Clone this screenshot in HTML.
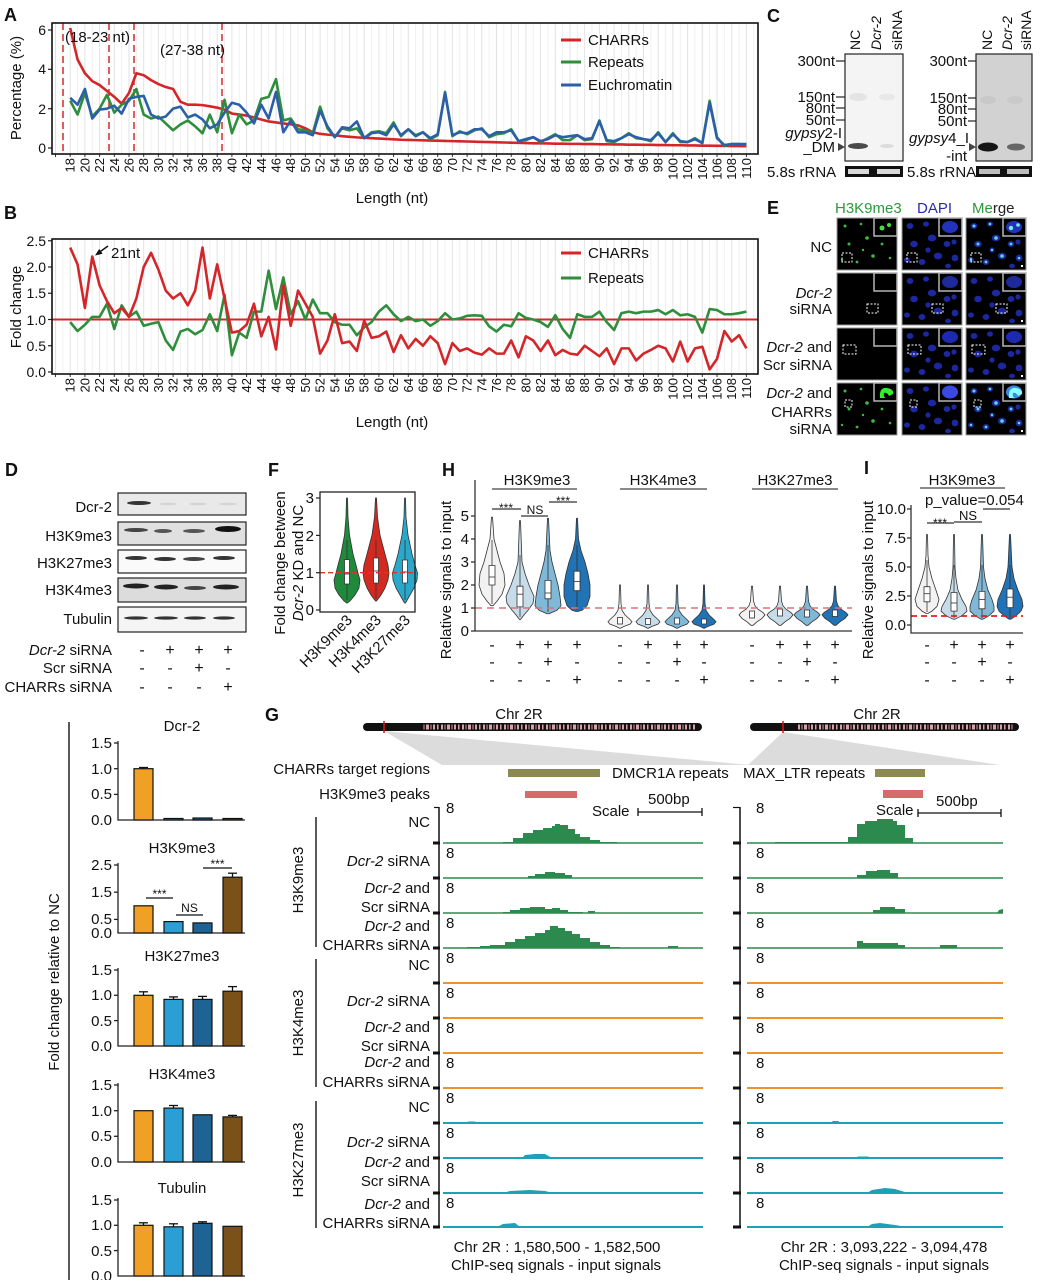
<!DOCTYPE html>
<html><head><meta charset="utf-8"><title>Figure</title>
<style>
html,body{margin:0;padding:0;background:#fff}
svg{display:block}
text{font-family:"Liberation Sans",Arial,sans-serif;fill:#111}
.L{font-weight:bold;font-size:18px}
.s12{font-size:12px}
.s13{font-size:13px}
.s14{font-size:14px}
.s15{font-size:15px}
.s16{font-size:16px}
.i{font-style:italic}
.e{text-anchor:end}
.m{text-anchor:middle}
</style></head><body>
<svg xmlns="http://www.w3.org/2000/svg" xmlns:xlink="http://www.w3.org/1999/xlink" width="1040" height="1280" viewBox="0 0 1040 1280">
<defs>
<pattern id="gA" patternUnits="userSpaceOnUse" x="69.7" y="0" width="14.7" height="20">
<rect x="0" y="0" width="1" height="20" fill="#e2e2e2"/><rect x="7.35" y="0" width="1" height="20" fill="#f0f0f0"/>
</pattern>
<pattern id="tk" patternUnits="userSpaceOnUse" x="69.7" y="0" width="14.7" height="20">
<rect x="0" y="0" width="1" height="20" fill="#333"/>
</pattern>
<pattern id="pk" patternUnits="userSpaceOnUse" x="0" y="0" width="21" height="10">
<rect x="0" y="0" width="2" height="10" fill="#d9a2ab"/><rect x="3.5" y="0" width="1" height="10" fill="#d9a2ab"/><rect x="6" y="0" width="3" height="10" fill="#d9a2ab"/><rect x="10.5" y="0" width="1" height="10" fill="#d9a2ab"/><rect x="13" y="0" width="2" height="10" fill="#d9a2ab"/><rect x="17" y="0" width="1.5" height="10" fill="#d9a2ab"/>
</pattern>
<g id="nucs" fill="#1c27a0">
<ellipse cx="8" cy="8" rx="3.4" ry="3"/><ellipse cx="24" cy="6" rx="3" ry="2.6"/><ellipse cx="30" cy="20" rx="4.2" ry="3.4"/><ellipse cx="12" cy="26" rx="3.8" ry="3.3"/><ellipse cx="45" cy="26" rx="3.4" ry="3"/><ellipse cx="53" cy="40" rx="3.4" ry="3.4"/><ellipse cx="36" cy="38" rx="4.2" ry="3.4"/><ellipse cx="20" cy="44" rx="3.4" ry="3"/><ellipse cx="46" cy="48" rx="3" ry="2.2"/><ellipse cx="5" cy="42" rx="3" ry="2.6"/><ellipse cx="26" cy="32" rx="2.6" ry="2.6"/><ellipse cx="52" cy="24" rx="2.6" ry="2.6"/>
</g>
<g id="gd" fill="#3dbb3d">
<circle cx="8" cy="8" r="1.5"/><circle cx="24" cy="6" r="1.3"/><circle cx="30" cy="20" r="1.8"/><circle cx="12" cy="26" r="1.5"/><circle cx="45" cy="26" r="1.4"/><circle cx="53" cy="40" r="1.3"/><circle cx="36" cy="38" r="1.8"/><circle cx="20" cy="44" r="1.4"/><circle cx="5" cy="42" r="1.2"/><circle cx="26" cy="32" r="1.2"/>
</g>
<g id="cd" fill="#5fd6d6">
<circle cx="8" cy="8" r="1.5"/><circle cx="24" cy="6" r="1.3"/><circle cx="30" cy="20" r="1.8"/><circle cx="12" cy="26" r="1.5"/><circle cx="45" cy="26" r="1.4"/><circle cx="53" cy="40" r="1.3"/><circle cx="36" cy="38" r="1.8"/><circle cx="20" cy="44" r="1.4"/><circle cx="5" cy="42" r="1.2"/><circle cx="26" cy="32" r="1.2"/>
</g>
<path id="vh2" stroke="#333" stroke-width="0.8" d="M0.5,585 L1,603.4 L2,610.3 L5,614.9 L10,619.5 L12,621.8 L10,624.1 L4,626.4 L0.5,628.2 L-0.5,628.2 L-4,626.4 L-10,624.1 L-12,621.8 L-10,619.5 L-5,614.9 L-2,610.3 L-1,603.4 L-0.5,585 Z"/>
<path id="vh3" stroke="#333" stroke-width="0.8" d="M0.5,586.2 L1.5,601.1 L3,605.7 L6,609.2 L11,612.6 L13,614.9 L10,618.4 L5,621.8 L1,625.3 L-1,625.3 L-5,621.8 L-10,618.4 L-13,614.9 L-11,612.6 L-6,609.2 L-3,605.7 L-1.5,601.1 L-0.5,586.2 Z"/>
</defs>
<rect width="1040" height="1280" fill="#fff"/>

<!-- ================= PANEL A ================= -->
<text x="4" y="21" class="L">A</text>
<rect x="52" y="23" width="706" height="131" fill="url(#gA)"/>
<rect x="52" y="154" width="706" height="3" fill="url(#tk)"/>
<g stroke="#222" stroke-width="1.2"><line x1="48" y1="148" x2="52" y2="148"/><line x1="48" y1="108.7" x2="52" y2="108.7"/><line x1="48" y1="69.3" x2="52" y2="69.3"/><line x1="48" y1="30" x2="52" y2="30"/></g>
<g class="s14 e"><text x="46" y="153">0</text><text x="46" y="114">2</text><text x="46" y="74">4</text><text x="46" y="35">6</text></g>
<text class="s15 m" transform="translate(21,88) rotate(-90)">Percentage (%)</text>
<g stroke="#d42a2a" stroke-width="1.5" stroke-dasharray="7,4"><line x1="63" y1="23" x2="63" y2="154"/><line x1="109" y1="23" x2="109" y2="154"/><line x1="134" y1="23" x2="134" y2="154"/><line x1="222" y1="23" x2="222" y2="154"/></g>
<g transform="translate(70.2,148) scale(7.35,-19.67)" fill="none" stroke-linejoin="round">
<polyline vector-effect="non-scaling-stroke" stroke="#d4262a" stroke-width="2.6" points="0,6.1 1,4.5 2,3.8 3,3.4 4,3.2 5,2.9 6,2.6 7,2.25 8,2.8 9,3.8 10,3.7 11,3.45 12,3.25 13,3.1 14,3.0 15,2.35 16,2.2 17,2.2 18,2.18 19,2.12 20,2.05 21,1.95 22,1.75 23,1.7 24,1.65 25,1.55 26,1.45 27,1.35 28,1.3 29,1.25 30,1.2 31,1.15 32,1.0 33,0.8 34,0.72 35,0.68 36,0.65 37,0.6 38,0.57 39,0.54 40,0.52 41,0.5 42,0.48 43,0.46 44,0.44 45,0.42 46,0.41 47,0.4 48,0.39 49,0.38 50,0.37 51,0.36 52,0.35 53,0.34 54,0.33 55,0.32 56,0.31 57,0.3 58,0.29 59,0.28 60,0.27 61,0.26 62,0.25 63,0.24 64,0.24 65,0.23 66,0.22 67,0.22 68,0.21 69,0.21 70,0.2 71,0.2 72,0.19 73,0.19 74,0.18 75,0.18 76,0.17 77,0.17 78,0.16 79,0.16 80,0.15 81,0.15 82,0.14 83,0.14 84,0.13 85,0.13 86,0.12 87,0.12 88,0.11 89,0.11 90,0.1 91,0.1 92,0.09"/>
<polyline vector-effect="non-scaling-stroke" stroke="#2e8e3c" stroke-width="2.6" points="0,2.4 1,1.7 2,2.8 3,1.6 4,2.0 5,2.7 6,1.8 7,2.2 8,2.4 9,3.0 10,1.7 11,1.5 12,1.6 13,1.25 14,0.9 15,1.2 16,1.4 17,1.1 18,0.75 19,1.7 20,0.8 21,2.45 22,0.75 23,1.7 24,1.2 25,1.4 26,2.5 27,2.6 28,3.5 29,1.4 30,1.5 31,0.95 32,0.9 33,0.75 34,2.1 35,1.0 36,0.55 37,1.0 38,0.9 39,1.0 40,0.5 41,0.8 42,0.85 43,0.75 44,1.3 45,0.6 46,0.95 47,0.65 48,0.8 49,0.45 50,0.65 51,2.85 52,0.6 53,0.85 54,0.7 55,0.9 56,1.0 57,0.55 58,0.7 59,0.75 60,0.95 61,0.35 62,0.4 63,0.55 64,0.3 65,0.5 66,0.7 67,0.4 68,0.4 69,0.65 70,0.4 71,0.45 72,1.4 73,0.35 74,0.3 75,0.5 76,0.75 77,0.5 78,0.45 79,0.35 80,0.8 81,0.3 82,0.75 83,0.3 84,0.3 85,0.5 86,0.25 87,2.4 88,0.55 89,0.1 90,0.2 91,0.2 92,0.15"/>
<polyline vector-effect="non-scaling-stroke" stroke="#2c5fa8" stroke-width="2.6" points="0,2.55 1,2.2 2,3.0 3,1.5 4,1.95 5,2.0 6,2.15 7,1.75 8,2.5 9,2.6 10,2.65 11,1.7 12,1.5 13,1.6 14,2.0 15,2.1 16,1.55 17,1.7 18,1.45 19,1.0 20,1.2 21,1.8 22,2.3 23,2.2 24,1.8 25,1.25 26,2.2 27,1.5 28,2.85 29,0.8 30,1.4 31,0.8 32,0.8 33,0.65 34,1.9 35,1.1 36,0.55 37,1.05 38,1.0 39,1.35 40,0.5 41,0.75 42,0.8 43,0.65 44,1.2 45,0.65 46,0.95 47,0.6 48,0.8 49,0.5 50,0.7 51,2.8 52,0.65 53,0.8 54,0.75 55,0.95 56,0.95 57,0.6 58,0.8 59,0.8 60,0.9 61,0.35 62,0.45 63,0.55 64,0.35 65,0.45 66,0.65 67,0.55 68,0.6 69,0.65 70,0.45 71,0.5 72,1.35 73,0.4 74,0.35 75,0.5 76,0.7 77,0.55 78,0.45 79,0.4 80,0.75 81,0.3 82,0.7 83,0.35 84,0.3 85,0.45 86,0.25 87,2.3 88,0.5 89,0.15 90,0.2 91,0.2 92,0.2"/>
</g>
<rect x="52" y="23" width="706" height="131" fill="none" stroke="#111" stroke-width="1.6"/>
<text x="65" y="42" class="s15">(18-23 nt)</text>
<text x="160" y="55" class="s15">(27-38 nt)</text>
<line x1="561" y1="40" x2="581" y2="40" stroke="#d4262a" stroke-width="3"/><text x="588" y="45" class="s15">CHARRs</text>
<line x1="561" y1="62" x2="581" y2="62" stroke="#2e8e3c" stroke-width="3"/><text x="588" y="67" class="s15">Repeats</text>
<line x1="561" y1="85" x2="581" y2="85" stroke="#2c5fa8" stroke-width="3"/><text x="588" y="90" class="s15">Euchromatin</text>
<g class="s13 e">
<text transform="translate(74.7,158) rotate(-90)">18</text><text transform="translate(89.4,158) rotate(-90)">20</text><text transform="translate(104.1,158) rotate(-90)">22</text><text transform="translate(118.8,158) rotate(-90)">24</text><text transform="translate(133.5,158) rotate(-90)">26</text><text transform="translate(148.2,158) rotate(-90)">28</text><text transform="translate(162.9,158) rotate(-90)">30</text><text transform="translate(177.6,158) rotate(-90)">32</text><text transform="translate(192.3,158) rotate(-90)">34</text><text transform="translate(207,158) rotate(-90)">36</text><text transform="translate(221.7,158) rotate(-90)">38</text><text transform="translate(236.4,158) rotate(-90)">40</text><text transform="translate(251.1,158) rotate(-90)">42</text><text transform="translate(265.8,158) rotate(-90)">44</text><text transform="translate(280.5,158) rotate(-90)">46</text><text transform="translate(295.2,158) rotate(-90)">48</text><text transform="translate(309.9,158) rotate(-90)">50</text><text transform="translate(324.6,158) rotate(-90)">52</text><text transform="translate(339.3,158) rotate(-90)">54</text><text transform="translate(354,158) rotate(-90)">56</text><text transform="translate(368.7,158) rotate(-90)">58</text><text transform="translate(383.4,158) rotate(-90)">60</text><text transform="translate(398.1,158) rotate(-90)">62</text><text transform="translate(412.8,158) rotate(-90)">64</text><text transform="translate(427.5,158) rotate(-90)">66</text><text transform="translate(442.2,158) rotate(-90)">68</text><text transform="translate(456.9,158) rotate(-90)">70</text><text transform="translate(471.6,158) rotate(-90)">72</text><text transform="translate(486.3,158) rotate(-90)">74</text><text transform="translate(501,158) rotate(-90)">76</text><text transform="translate(515.7,158) rotate(-90)">78</text><text transform="translate(530.4,158) rotate(-90)">80</text><text transform="translate(545.1,158) rotate(-90)">82</text><text transform="translate(559.8,158) rotate(-90)">84</text><text transform="translate(574.5,158) rotate(-90)">86</text><text transform="translate(589.2,158) rotate(-90)">88</text><text transform="translate(603.9,158) rotate(-90)">90</text><text transform="translate(618.6,158) rotate(-90)">92</text><text transform="translate(633.3,158) rotate(-90)">94</text><text transform="translate(648,158) rotate(-90)">96</text><text transform="translate(662.7,158) rotate(-90)">98</text><text transform="translate(677.4,158) rotate(-90)">100</text><text transform="translate(692.1,158) rotate(-90)">102</text><text transform="translate(706.8,158) rotate(-90)">104</text><text transform="translate(721.5,158) rotate(-90)">106</text><text transform="translate(736.2,158) rotate(-90)">108</text><text transform="translate(750.9,158) rotate(-90)">110</text>
</g>
<text x="392" y="203" class="s15 m">Length (nt)</text>

<!-- ================= PANEL B ================= -->
<text x="4" y="219" class="L">B</text>
<rect x="52" y="239" width="706" height="135" fill="url(#gA)"/>
<rect x="52" y="374" width="706" height="3" fill="url(#tk)"/>
<g stroke="#222" stroke-width="1.2"><line x1="48" y1="372" x2="52" y2="372"/><line x1="48" y1="345.75" x2="52" y2="345.75"/><line x1="48" y1="319.5" x2="52" y2="319.5"/><line x1="48" y1="293.25" x2="52" y2="293.25"/><line x1="48" y1="267" x2="52" y2="267"/><line x1="48" y1="240.75" x2="52" y2="240.75"/></g>
<g class="s14 e"><text x="46" y="377">0.0</text><text x="46" y="351">0.5</text><text x="46" y="325">1.0</text><text x="46" y="298">1.5</text><text x="46" y="272">2.0</text><text x="46" y="246">2.5</text></g>
<text class="s15 m" transform="translate(21,307) rotate(-90)">Fold change</text>
<line x1="52" y1="319.5" x2="758" y2="319.5" stroke="#d4262a" stroke-width="2"/>
<g transform="translate(70.2,372) scale(7.35,-52.5)" fill="none" stroke-linejoin="round">
<polyline vector-effect="non-scaling-stroke" stroke="#2e8e3c" stroke-width="2.6" points="0,0.95 1,0.78 2,0.9 3,1.05 4,1.05 5,1.3 6,0.82 7,1.27 8,1.05 9,1.15 10,0.88 11,0.92 12,0.95 13,0.6 14,0.42 15,0.77 16,0.82 17,0.72 18,0.8 19,1.1 20,0.78 21,1.47 22,0.32 23,0.75 24,0.65 25,1.15 26,1.15 27,1.93 28,1.2 29,1.8 30,1.1 31,1.35 32,1.0 33,1.38 34,1.12 35,1.12 36,0.95 37,0.9 38,0.9 39,0.7 40,0.85 41,0.95 42,1.15 43,1.27 44,1.1 45,0.97 46,1.05 47,0.97 48,1.0 49,0.88 50,0.97 51,1.12 52,1.0 53,1.02 54,1.07 55,1.08 56,1.07 57,0.87 58,0.77 59,0.9 60,0.87 61,1.12 62,1.03 63,1.0 64,0.95 65,0.86 66,1.08 67,0.82 68,0.65 69,1.1 70,1.05 71,1.05 72,1.15 73,0.95 74,0.8 75,1.12 76,1.15 77,1.12 78,1.15 79,1.15 80,1.18 81,1.1 82,1.18 83,1.08 84,1.1 85,1.05 86,0.75 87,1.2 88,1.18 89,1.1 90,1.1 91,1.12 92,1.15"/>
<polyline vector-effect="non-scaling-stroke" stroke="#d4262a" stroke-width="2.6" points="0,2.37 1,2.05 2,1.22 3,2.2 4,1.65 5,1.35 6,1.12 7,1.22 8,1.05 9,1.4 10,2.0 11,2.27 12,1.95 13,1.55 14,1.4 15,1.5 16,1.27 17,1.55 18,2.37 19,1.4 20,2.05 21,1.4 22,0.75 23,0.78 24,0.9 25,1.3 26,0.68 27,1.05 28,0.43 29,1.65 30,0.88 31,1.55 32,1.3 33,1.05 34,0.35 35,0.6 36,1.1 37,0.55 38,0.58 39,0.4 40,0.98 41,0.65 42,0.68 43,0.77 44,0.38 45,0.7 46,0.45 47,0.63 48,0.5 49,0.68 50,0.55 51,0.15 52,0.55 53,0.4 54,0.45 55,0.37 56,0.33 57,0.45 58,0.35 59,0.35 60,0.6 61,0.28 62,0.68 63,0.6 64,0.4 65,0.6 66,0.32 67,0.42 68,0.35 69,0.33 70,0.5 71,0.4 72,0.3 73,0.45 74,0.15 75,0.45 76,0.45 77,0.22 78,0.35 79,0.42 80,0.5 81,0.45 82,0.2 83,0.58 84,0.2 85,0.45 86,0.48 87,0.05 88,0.25 89,0.78 90,0.58 91,0.7 92,0.45"/>
</g>
<rect x="52" y="239" width="706" height="135" fill="none" stroke="#111" stroke-width="1.6"/>
<line x1="108" y1="246" x2="99" y2="252.5" stroke="#111" stroke-width="1.4"/>
<polygon points="95,255.5 102.6,253.8 99.2,249" fill="#111"/>
<text x="111" y="258" class="s15">21nt</text>
<line x1="561" y1="253" x2="581" y2="253" stroke="#d4262a" stroke-width="3"/><text x="588" y="258" class="s15">CHARRs</text>
<line x1="561" y1="278" x2="581" y2="278" stroke="#2e8e3c" stroke-width="3"/><text x="588" y="283" class="s15">Repeats</text>
<g class="s13 e">
<text transform="translate(74.7,378) rotate(-90)">18</text><text transform="translate(89.4,378) rotate(-90)">20</text><text transform="translate(104.1,378) rotate(-90)">22</text><text transform="translate(118.8,378) rotate(-90)">24</text><text transform="translate(133.5,378) rotate(-90)">26</text><text transform="translate(148.2,378) rotate(-90)">28</text><text transform="translate(162.9,378) rotate(-90)">30</text><text transform="translate(177.6,378) rotate(-90)">32</text><text transform="translate(192.3,378) rotate(-90)">34</text><text transform="translate(207,378) rotate(-90)">36</text><text transform="translate(221.7,378) rotate(-90)">38</text><text transform="translate(236.4,378) rotate(-90)">40</text><text transform="translate(251.1,378) rotate(-90)">42</text><text transform="translate(265.8,378) rotate(-90)">44</text><text transform="translate(280.5,378) rotate(-90)">46</text><text transform="translate(295.2,378) rotate(-90)">48</text><text transform="translate(309.9,378) rotate(-90)">50</text><text transform="translate(324.6,378) rotate(-90)">52</text><text transform="translate(339.3,378) rotate(-90)">54</text><text transform="translate(354,378) rotate(-90)">56</text><text transform="translate(368.7,378) rotate(-90)">58</text><text transform="translate(383.4,378) rotate(-90)">60</text><text transform="translate(398.1,378) rotate(-90)">62</text><text transform="translate(412.8,378) rotate(-90)">64</text><text transform="translate(427.5,378) rotate(-90)">66</text><text transform="translate(442.2,378) rotate(-90)">68</text><text transform="translate(456.9,378) rotate(-90)">70</text><text transform="translate(471.6,378) rotate(-90)">72</text><text transform="translate(486.3,378) rotate(-90)">74</text><text transform="translate(501,378) rotate(-90)">76</text><text transform="translate(515.7,378) rotate(-90)">78</text><text transform="translate(530.4,378) rotate(-90)">80</text><text transform="translate(545.1,378) rotate(-90)">82</text><text transform="translate(559.8,378) rotate(-90)">84</text><text transform="translate(574.5,378) rotate(-90)">86</text><text transform="translate(589.2,378) rotate(-90)">88</text><text transform="translate(603.9,378) rotate(-90)">90</text><text transform="translate(618.6,378) rotate(-90)">92</text><text transform="translate(633.3,378) rotate(-90)">94</text><text transform="translate(648,378) rotate(-90)">96</text><text transform="translate(662.7,378) rotate(-90)">98</text><text transform="translate(677.4,378) rotate(-90)">100</text><text transform="translate(692.1,378) rotate(-90)">102</text><text transform="translate(706.8,378) rotate(-90)">104</text><text transform="translate(721.5,378) rotate(-90)">106</text><text transform="translate(736.2,378) rotate(-90)">108</text><text transform="translate(750.9,378) rotate(-90)">110</text>
</g>
<text x="392" y="427" class="s15 m">Length (nt)</text>

<!-- ================= PANEL C ================= -->
<text x="767" y="22" class="L">C</text>
<g class="s14">
<text transform="translate(860,50) rotate(-90)">NC</text>
<text class="i" transform="translate(881,50) rotate(-90)">Dcr-2</text>
<text transform="translate(902,50) rotate(-90)">siRNA</text>
<text transform="translate(992,50) rotate(-90)">NC</text>
<text class="i" transform="translate(1012,50) rotate(-90)">Dcr-2</text>
<text transform="translate(1031,50) rotate(-90)">siRNA</text>
</g>
<rect x="845" y="54" width="58" height="107" fill="#f4f4f4" stroke="#222" stroke-width="1.2"/>
<ellipse cx="858" cy="97" rx="9" ry="4" fill="#e4e4e4"/><ellipse cx="887" cy="97" rx="8" ry="3.5" fill="#e8e8e8"/>
<ellipse cx="858" cy="146" rx="10" ry="3" fill="#4a4a4a"/><ellipse cx="887" cy="146" rx="7" ry="2" fill="#dcdcdc"/>
<g stroke="#222" stroke-width="1.2"><line x1="836" y1="61" x2="845" y2="61"/><line x1="836" y1="97" x2="845" y2="97"/><line x1="836" y1="108" x2="845" y2="108"/><line x1="836" y1="120" x2="845" y2="120"/></g>
<g class="s15 e">
<text x="835" y="66">300nt</text><text x="835" y="102">150nt</text><text x="835" y="113">80nt</text><text x="835" y="125">50nt</text>
<text x="842" y="138"><tspan class="i">gypsy</tspan>2-I</text>
<text x="835" y="152">_DM</text>
</g>
<polygon points="838,143 845,147 838,151" fill="#444"/>
<text x="767" y="177" class="s15">5.8s rRNA</text>
<rect x="845" y="166" width="58" height="11" fill="#111"/>
<rect x="848" y="169" width="21" height="5" fill="#d8d8d8"/><rect x="877" y="169" width="23" height="5" fill="#d8d8d8"/>

<rect x="976" y="54" width="56" height="107" fill="#d2d2d2" stroke="#222" stroke-width="1.2"/>
<ellipse cx="988" cy="100" rx="8" ry="4" fill="#c8c8c8"/><ellipse cx="1015" cy="100" rx="8" ry="4" fill="#cacaca"/>
<ellipse cx="988" cy="147" rx="10" ry="4.5" fill="#151515"/><ellipse cx="1016" cy="147" rx="9" ry="3.5" fill="#666"/>
<g stroke="#222" stroke-width="1.2"><line x1="968" y1="61" x2="976" y2="61"/><line x1="968" y1="98" x2="976" y2="98"/><line x1="968" y1="109" x2="976" y2="109"/><line x1="968" y1="121" x2="976" y2="121"/></g>
<g class="s15 e">
<text x="967" y="66">300nt</text><text x="967" y="103">150nt</text><text x="967" y="114">80nt</text><text x="967" y="126">50nt</text>
<text x="969" y="143"><tspan class="i">gypsy</tspan>4_I</text>
<text x="967" y="161">-int</text>
</g>
<polygon points="969,143 976,147 969,151" fill="#444"/>
<text x="907" y="177" class="s15">5.8s rRNA</text>
<rect x="976" y="166" width="56" height="11" fill="#111"/>
<rect x="979" y="169" width="21" height="5" fill="#bdbdbd"/><rect x="1007" y="169" width="22" height="5" fill="#bdbdbd"/>

<!-- ================= PANEL E ================= -->
<text x="767" y="214" class="L">E</text>
<g class="s15">
<text x="835" y="213" style="fill:#2a9a3a">H3K9me3</text>
<text x="917" y="213" style="fill:#2b2bb0">DAPI</text>
<text x="972" y="213"><tspan style="fill:#2a9a3a">Me</tspan><tspan style="fill:#222">rge</tspan></text>
</g>
<g class="s15 e">
<text x="832" y="252">NC</text>
<text x="832" y="298" class="i">Dcr-2</text><text x="832" y="314">siRNA</text>
<text x="832" y="352"><tspan class="i">Dcr-2</tspan> and</text><text x="832" y="370">Scr siRNA</text>
<text x="832" y="398"><tspan class="i">Dcr-2</tspan> and</text><text x="832" y="417">CHARRs</text><text x="832" y="434">siRNA</text>
</g>
<rect x="837" y="218" width="60" height="52" fill="#000" stroke="#999"/>
<use href="#gd" xlink:href="#gd" x="837" y="218"/>
<rect x="902" y="218" width="60" height="52" fill="#000" stroke="#999"/>
<use href="#nucs" xlink:href="#nucs" x="902" y="218"/>
<rect x="966" y="218" width="60" height="52" fill="#000" stroke="#999"/>
<use href="#nucs" xlink:href="#nucs" x="966" y="218"/><use href="#cd" xlink:href="#cd" x="966" y="218"/>
<rect x="837" y="273" width="60" height="52" fill="#000" stroke="#999"/>
<rect x="902" y="273" width="60" height="52" fill="#000" stroke="#999"/>
<use href="#nucs" xlink:href="#nucs" x="902" y="273"/>
<rect x="966" y="273" width="60" height="52" fill="#000" stroke="#999"/>
<use href="#nucs" xlink:href="#nucs" x="966" y="273"/>
<rect x="837" y="328" width="60" height="52" fill="#000" stroke="#999"/>
<rect x="902" y="328" width="60" height="52" fill="#000" stroke="#999"/>
<use href="#nucs" xlink:href="#nucs" x="902" y="328"/>
<rect x="966" y="328" width="60" height="52" fill="#000" stroke="#999"/>
<use href="#nucs" xlink:href="#nucs" x="966" y="328"/>
<rect x="837" y="383" width="60" height="52" fill="#000" stroke="#999"/>
<use href="#gd" xlink:href="#gd" x="837" y="383"/>
<rect x="902" y="383" width="60" height="52" fill="#000" stroke="#999"/>
<use href="#nucs" xlink:href="#nucs" x="902" y="383"/>
<rect x="966" y="383" width="60" height="52" fill="#000" stroke="#999"/>
<use href="#nucs" xlink:href="#nucs" x="966" y="383"/><use href="#cd" xlink:href="#cd" x="966" y="383"/>
<g stroke="#b5b5b5" stroke-width="1.5" fill="#000">
<rect x="874" y="218" width="23" height="18"/><rect x="939" y="218" width="23" height="18"/><rect x="1003" y="218" width="23" height="18"/>
<rect x="874" y="273" width="23" height="18"/><rect x="939" y="273" width="23" height="18"/><rect x="1003" y="273" width="23" height="18"/>
<rect x="874" y="328" width="23" height="18"/><rect x="939" y="328" width="23" height="18"/><rect x="1003" y="328" width="23" height="18"/>
<rect x="874" y="383" width="23" height="18"/><rect x="939" y="383" width="23" height="18"/><rect x="1003" y="383" width="23" height="18"/>
</g>
<circle cx="882" cy="228" r="2.5" fill="#4d4"/><circle cx="889" cy="225" r="2" fill="#4d4"/>
<ellipse cx="950" cy="227" rx="8" ry="6" fill="#2233bb"/>
<ellipse cx="1014" cy="227" rx="8" ry="6" fill="#2233bb"/><circle cx="1011" cy="228" r="2.2" fill="#7ee"/><circle cx="1018" cy="225" r="1.8" fill="#7ee"/>
<ellipse cx="950" cy="282" rx="8" ry="6" fill="#1d2a9a"/><ellipse cx="1014" cy="282" rx="8" ry="6" fill="#1d2a9a"/>
<ellipse cx="950" cy="337" rx="8" ry="6" fill="#1d2ab0"/><ellipse cx="1014" cy="337" rx="8" ry="6" fill="#1d2ab0"/>
<path d="M880,398 Q879,387 887,388 Q894,389 893,394 L889,396 Q887,392 884,393 Q883,397 886,398 Z" fill="#3e3"/>
<ellipse cx="950" cy="392" rx="8" ry="6.5" fill="#3a4ae0"/>
<ellipse cx="1014" cy="392" rx="8" ry="6.5" fill="#3a8ae0"/><path d="M1009,398 Q1008,387 1016,388 Q1023,389 1022,394 L1018,396 Q1016,392 1013,393 Q1012,397 1015,398 Z" fill="#8ff"/>
<g fill="none" stroke="#fff" stroke-width="1" stroke-dasharray="2,1.5">
<rect x="842" y="253" width="10" height="9"/><rect x="907" y="253" width="10" height="9"/><rect x="971" y="253" width="10" height="9"/>
<rect x="867" y="304" width="11" height="9"/><rect x="932" y="304" width="11" height="9"/><rect x="996" y="304" width="11" height="9"/>
<rect x="843" y="345" width="13" height="9"/><rect x="908" y="345" width="13" height="9"/><rect x="972" y="345" width="13" height="9"/>
<rect x="845" y="400" width="7" height="7"/><rect x="910" y="400" width="7" height="7"/><rect x="974" y="400" width="7" height="7"/>
</g>
<g fill="#fff"><rect x="1021" y="265" width="2" height="2"/><rect x="1021" y="320" width="2" height="2"/><rect x="1021" y="375" width="2" height="2"/><rect x="1021" y="430" width="2" height="2"/></g>

<!-- ================= PANEL D ================= -->
<text x="5" y="476" class="L">D</text>
<rect x="118" y="493" width="128" height="22" fill="#e9e9e9" stroke="#222" stroke-width="1.2"/>
<ellipse cx="139" cy="503" rx="12" ry="2" fill="#333"/><ellipse cx="168" cy="504" rx="9" ry="1.2" fill="#d4d4d4"/><ellipse cx="198" cy="504" rx="9" ry="1.2" fill="#d4d4d4"/><ellipse cx="228" cy="504" rx="9" ry="1.2" fill="#d4d4d4"/>
<rect x="118" y="522" width="128" height="23" fill="#e0e0e0" stroke="#222" stroke-width="1.2"/>
<ellipse cx="136" cy="530" rx="12" ry="2" fill="#444"/><ellipse cx="163" cy="531" rx="9" ry="2" fill="#555"/><ellipse cx="194" cy="531" rx="11" ry="2" fill="#555"/><ellipse cx="228" cy="529" rx="13" ry="3" fill="#111"/>
<rect x="118" y="550" width="128" height="23" fill="#fafafa" stroke="#222" stroke-width="1.2"/>
<ellipse cx="136" cy="558" rx="11" ry="2" fill="#333"/><ellipse cx="165" cy="559" rx="11" ry="2" fill="#333"/><ellipse cx="194" cy="559" rx="11" ry="2" fill="#444"/><ellipse cx="224" cy="558" rx="11" ry="2" fill="#333"/>
<rect x="118" y="578" width="128" height="24" fill="#dcdcdc" stroke="#222" stroke-width="1.2"/>
<ellipse cx="136" cy="586" rx="13" ry="2.5" fill="#222"/><ellipse cx="166" cy="587" rx="12" ry="2.5" fill="#222"/><ellipse cx="195" cy="588" rx="11" ry="2" fill="#444"/><ellipse cx="226" cy="587" rx="13" ry="2.5" fill="#222"/>
<rect x="118" y="607" width="128" height="25" fill="#f4f4f4" stroke="#222" stroke-width="1.2"/>
<ellipse cx="136" cy="618" rx="12" ry="1.6" fill="#333"/><ellipse cx="166" cy="618" rx="12" ry="1.6" fill="#333"/><ellipse cx="195" cy="618" rx="11" ry="1.6" fill="#333"/><ellipse cx="224" cy="618" rx="11" ry="1.6" fill="#333"/>
<g class="s15 e">
<text x="112" y="512">Dcr-2</text><text x="112" y="541">H3K9me3</text><text x="112" y="568">H3K27me3</text><text x="112" y="595">H3K4me3</text><text x="112" y="624">Tubulin</text>
<text x="112" y="655"><tspan class="i">Dcr-2</tspan> siRNA</text><text x="112" y="673">Scr siRNA</text><text x="112" y="692">CHARRs siRNA</text>
</g>
<g class="s16 m">
<text x="142" y="655">-</text><text x="170" y="655">+</text><text x="199" y="655">+</text><text x="228" y="655">+</text>
<text x="142" y="673">-</text><text x="170" y="673">-</text><text x="199" y="673">+</text><text x="228" y="673">-</text>
<text x="142" y="692">-</text><text x="170" y="692">-</text><text x="199" y="692">-</text><text x="228" y="692">+</text>
</g>

<!-- ================= PANEL F ================= -->
<text x="268" y="476" class="L">F</text>
<g class="s15 m">
<text transform="translate(285,563) rotate(-90)">Fold change between</text>
<text transform="translate(303,563) rotate(-90)"><tspan class="i">Dcr-2</tspan> KD and NC</text>
</g>
<g stroke="#222" stroke-width="1.2"><line x1="316" y1="498" x2="320" y2="498"/><line x1="316" y1="535.4" x2="320" y2="535.4"/><line x1="316" y1="572.7" x2="320" y2="572.7"/><line x1="316" y1="610" x2="320" y2="610"/></g>
<g class="s15 e"><text x="314" y="503">3</text><text x="314" y="541">2</text><text x="314" y="578">1</text><text x="314" y="615">0</text></g>
<g stroke="#333" stroke-width="0.8" stroke-linejoin="round">
<polygon fill="#1f8a3c" points="347.5,498 348,517 349.5,535 353,554 356,565 358,573 360,580 359,588 355,595 350,601 347.5,603 346.5,603 344,601 339,595 335,588 334,580 336,573 338,565 341,554 344.5,535 346,517 346.5,498"/>
<polygon fill="#d22a20" points="376.5,498 377.5,517 380,535 385,554 388,565 389,573 388,580 385,588 381,595 376.5,601 375.5,601 371,595 367,588 364,580 363,573 364,565 367,554 372,535 374.5,517 375.5,498"/>
<polygon fill="#2aa8cc" points="405.5,498 406,517 408,535 412,554 415,565 417.5,573 417,580 414,588 410,595 405.5,603 404.5,603 400,595 396,588 393,580 392.5,573 395,565 398,554 402,535 404,517 404.5,498"/>
<line x1="347" y1="540" x2="347" y2="600"/><line x1="376" y1="540" x2="376" y2="598"/><line x1="405" y1="540" x2="405" y2="600"/>
<rect x="344.5" y="559.6" width="5" height="24.4" fill="#fff"/><rect x="373.5" y="558" width="5" height="25" fill="#fff"/><rect x="402.5" y="560" width="5" height="23" fill="#fff"/>
<line x1="344.5" y1="574" x2="349.5" y2="574"/><line x1="373.5" y1="571" x2="378.5" y2="571"/><line x1="402.5" y1="572" x2="407.5" y2="572"/>
</g>
<line x1="320" y1="572.7" x2="415" y2="572.7" stroke="#e03030" stroke-width="1.4" stroke-dasharray="5,3"/>
<rect x="320" y="492" width="95" height="120" fill="none" stroke="#222" stroke-width="1.3"/>
<g class="s15 e">
<text transform="translate(353,621) rotate(-45)">H3K9me3</text>
<text transform="translate(382,621) rotate(-45)">H3K4me3</text>
<text transform="translate(411,621) rotate(-45)">H3K27me3</text>
</g>

<!-- ================= PANEL H ================= -->
<text x="442" y="476" class="L">H</text>
<text class="s15 m" transform="translate(451,580) rotate(-90)">Relative signals to input</text>
<g stroke="#222" stroke-width="1.2"><line x1="471" y1="631" x2="475" y2="631"/><line x1="471" y1="608" x2="475" y2="608"/><line x1="471" y1="585" x2="475" y2="585"/><line x1="471" y1="562" x2="475" y2="562"/><line x1="471" y1="539" x2="475" y2="539"/><line x1="471" y1="516" x2="475" y2="516"/></g>
<g class="s15 e"><text x="469" y="636">0</text><text x="469" y="613">1</text><text x="469" y="590">2</text><text x="469" y="567">3</text><text x="469" y="544">4</text><text x="469" y="521">5</text></g>
<g class="s15 m"><text x="537" y="485">H3K9me3</text><text x="663" y="485">H3K4me3</text><text x="795" y="485">H3K27me3</text></g>
<g stroke="#444" stroke-width="1.3"><line x1="492" y1="489" x2="577" y2="489"/><line x1="620" y1="489" x2="707" y2="489"/><line x1="752" y1="489" x2="838" y2="489"/></g>
<g stroke="#333" stroke-width="0.8" stroke-linejoin="round">
<polygon fill="#f2f2f2" points="492.5,517.1 494,539 497,550.5 500,562 504,573.5 505,585 502,594.2 497,601.1 493,605.7 491,605.7 487,601.1 482,594.2 479,585 480,573.5 484,562 487,550.5 490,539 491.5,517.1"/>
<polygon fill="#c6dce9" points="520.5,520.6 522,562 525,573.5 529,585 534,596.5 533,603.4 528,610.3 524,614.9 520.5,619.5 519.5,619.5 516,614.9 512,610.3 507,603.4 506,596.5 511,585 515,573.5 518,562 519.5,520.6"/>
<polygon fill="#80b8d8" points="548.5,518.3 550,550.5 552,562 555,573.5 558,585 560,596.5 561,605.7 557,610.3 549,613.75 547,613.75 539,610.3 535,605.7 536,596.5 538,585 541,573.5 544,562 546,550.5 547.5,518.3"/>
<polygon fill="#2272b6" points="577.5,518.3 578.5,539 581,550.5 585,562 588,573.5 590,585 590,596.5 587,605.7 582,610.3 578,611.5 576,611.5 572,610.3 567,605.7 564,596.5 564,585 566,573.5 569,562 573,550.5 575.5,539 576.5,518.3"/>
<line x1="492" y1="540" x2="492" y2="604"/><line x1="520" y1="555" x2="520" y2="617"/><line x1="548" y1="545" x2="548" y2="612"/><line x1="577" y1="545" x2="577" y2="610"/>
<rect x="489" y="565.5" width="6" height="19.5" fill="#fff"/><rect x="517" y="586.2" width="6" height="20.7" fill="#fff"/><rect x="545" y="580.4" width="6" height="18.4" fill="#fff"/><rect x="574" y="571.2" width="6" height="19.5" fill="#fff"/>
<line x1="489" y1="577" x2="495" y2="577"/><line x1="517" y1="594.2" x2="523" y2="594.2"/><line x1="545" y1="593" x2="551" y2="593"/><line x1="574" y1="581.5" x2="580" y2="581.5"/>
</g>
<use href="#vh2" xlink:href="#vh2" x="620" fill="#f2f2f2"/><use href="#vh2" xlink:href="#vh2" x="648" fill="#c6dce9"/><use href="#vh2" xlink:href="#vh2" x="677" fill="#80b8d8"/><use href="#vh2" xlink:href="#vh2" x="704" fill="#2272b6"/>
<use href="#vh3" xlink:href="#vh3" x="752" fill="#f2f2f2"/><use href="#vh3" xlink:href="#vh3" x="780" fill="#c6dce9"/><use href="#vh3" xlink:href="#vh3" x="807" fill="#80b8d8"/><use href="#vh3" xlink:href="#vh3" x="835" fill="#2272b6"/>
<g stroke="#333" stroke-width="0.8" fill="#fff">
<rect x="617.5" y="617.5" width="5" height="6.5"/><rect x="645.5" y="618.5" width="5" height="6"/><rect x="674.5" y="618" width="5" height="6"/><rect x="701.5" y="619" width="5" height="5"/>
<rect x="749.5" y="611" width="5" height="7"/><rect x="777.5" y="609" width="5" height="7"/><rect x="804.5" y="610" width="5" height="7"/><rect x="832.5" y="610" width="5" height="6.5"/>
</g>
<line x1="475" y1="608" x2="852" y2="608" stroke="#e07070" stroke-width="1.5" stroke-dasharray="7,5"/>
<g stroke="#333" stroke-width="1.3" fill="none"><polyline points="475,480 475,631 852,631"/></g>
<g stroke="#333" stroke-width="1.2"><line x1="492" y1="509" x2="521" y2="509"/><line x1="521" y1="516" x2="548" y2="516"/><line x1="549" y1="502" x2="577" y2="502"/></g>
<g class="s12 m"><text x="506" y="512">***</text><text x="563" y="505">***</text><text x="535" y="514">NS</text></g>
<g class="s16 m">
<text x="492" y="650">-</text><text x="520" y="650">+</text><text x="548" y="650">+</text><text x="577" y="650">+</text>
<text x="492" y="667">-</text><text x="520" y="667">-</text><text x="548" y="667">+</text><text x="577" y="667">-</text>
<text x="492" y="685">-</text><text x="520" y="685">-</text><text x="548" y="685">-</text><text x="577" y="685">+</text>
<text x="620" y="650">-</text><text x="648" y="650">+</text><text x="677" y="650">+</text><text x="704" y="650">+</text>
<text x="620" y="667">-</text><text x="648" y="667">-</text><text x="677" y="667">+</text><text x="704" y="667">-</text>
<text x="620" y="685">-</text><text x="648" y="685">-</text><text x="677" y="685">-</text><text x="704" y="685">+</text>
<text x="752" y="650">-</text><text x="780" y="650">+</text><text x="807" y="650">+</text><text x="835" y="650">+</text>
<text x="752" y="667">-</text><text x="780" y="667">-</text><text x="807" y="667">+</text><text x="835" y="667">-</text>
<text x="752" y="685">-</text><text x="780" y="685">-</text><text x="807" y="685">-</text><text x="835" y="685">+</text>
</g>

<!-- ================= PANEL I ================= -->
<text x="864" y="474" class="L">I</text>
<text class="s15 m" transform="translate(873,580) rotate(-90)">Relative signals to input</text>
<g stroke="#222" stroke-width="1.2"><line x1="907" y1="625" x2="911" y2="625"/><line x1="907" y1="596" x2="911" y2="596"/><line x1="907" y1="567" x2="911" y2="567"/><line x1="907" y1="538" x2="911" y2="538"/><line x1="907" y1="509" x2="911" y2="509"/></g>
<g class="s15 e"><text x="906" y="630">0.0</text><text x="906" y="601">2.5</text><text x="906" y="572">5.0</text><text x="906" y="543">7.5</text><text x="906" y="514">10.0</text></g>
<text x="962" y="485" class="s15 m">H3K9me3</text>
<line x1="920" y1="488" x2="1005" y2="488" stroke="#444" stroke-width="1.3"/>
<text x="925" y="505" class="s15">p_value=0.054</text>
<g stroke="#333" stroke-width="0.8" stroke-linejoin="round">
<polygon fill="#f2f2f2" points="927.5,534.5 928,555.4 929,567 932,578.6 936,590.2 939,599.5 937,606.4 932,611.1 928,613.4 926,613.4 922,611.1 917,606.4 915,599.5 918,590.2 922,578.6 925,567 926,555.4 926.5,534.5"/>
<polygon fill="#c6dce9" points="954.5,534.5 955,567 956,578.6 958,590.2 962,599.5 966,606.4 967,611.1 962,615.7 955,619.2 953,619.2 946,615.7 941,611.1 942,606.4 946,599.5 950,590.2 952,578.6 953,567 953.5,534.5"/>
<polygon fill="#80b8d8" points="982.5,534.5 983.5,567 985,578.6 988,590.2 992,599.5 994,606.4 994,611.1 989,615.7 983,619.2 981,619.2 975,615.7 970,611.1 970,606.4 972,599.5 976,590.2 979,578.6 980.5,567 981.5,534.5"/>
<polygon fill="#2272b6" points="1010.5,534.5 1012,567 1014,578.6 1018,590.2 1022,599.5 1023,606.4 1021,611.1 1016,615.7 1011,619.2 1009,619.2 1004,615.7 999,611.1 997,606.4 998,599.5 1002,590.2 1006,578.6 1008,567 1009.5,534.5"/>
<line x1="927" y1="560" x2="927" y2="612"/><line x1="954" y1="565" x2="954" y2="618"/><line x1="982" y1="565" x2="982" y2="618"/><line x1="1010" y1="565" x2="1010" y2="618"/>
<rect x="924" y="586.7" width="6" height="15.1" fill="#fff"/><rect x="951" y="592.5" width="6" height="18.6" fill="#fff"/><rect x="979" y="591.4" width="6" height="17.4" fill="#fff"/><rect x="1007" y="589" width="6" height="18.6" fill="#fff"/>
<line x1="924" y1="593.7" x2="930" y2="593.7"/><line x1="951" y1="603" x2="957" y2="603"/><line x1="979" y1="599.5" x2="985" y2="599.5"/><line x1="1007" y1="597.2" x2="1013" y2="597.2"/>
</g>
<line x1="911" y1="616" x2="1023" y2="616" stroke="#e02020" stroke-width="1.8" stroke-dasharray="6,4"/>
<polyline points="911,505 911,633 1023,633" fill="none" stroke="#333" stroke-width="1.3"/>
<g stroke="#333" stroke-width="1.2"><line x1="927" y1="523" x2="954" y2="523"/><line x1="954" y1="522" x2="982" y2="522"/><line x1="983" y1="509" x2="1010" y2="509"/></g>
<text x="940" y="527" class="s12 m">***</text>
<text x="968" y="520" class="s13 m">NS</text>
<g class="s16 m">
<text x="927" y="650">-</text><text x="954" y="650">+</text><text x="982" y="650">+</text><text x="1010" y="650">+</text>
<text x="927" y="667">-</text><text x="954" y="667">-</text><text x="982" y="667">+</text><text x="1010" y="667">-</text>
<text x="927" y="685">-</text><text x="954" y="685">-</text><text x="982" y="685">-</text><text x="1010" y="685">+</text>
</g>

<!-- ================= BAR CHARTS ================= -->
<line x1="69" y1="722" x2="69" y2="1280" stroke="#222" stroke-width="1.5"/>
<text class="s15 m" transform="translate(59,982) rotate(-90)">Fold change relative to NC</text>
<g class="s15 m"><text x="182" y="731">Dcr-2</text><text x="182" y="853">H3K9me3</text><text x="182" y="961">H3K27me3</text><text x="182" y="1079">H3K4me3</text><text x="182" y="1193">Tubulin</text></g>
<g class="s15 e">
<text x="112" y="748">1.5</text><text x="112" y="774">1.0</text><text x="112" y="799">0.5</text><text x="112" y="825">0.0</text>
<text x="112" y="870">2.5</text><text x="112" y="897">1.5</text><text x="112" y="924">0.5</text><text x="112" y="938">0.0</text>
<text x="112" y="975">1.5</text><text x="112" y="1000">1.0</text><text x="112" y="1026">0.5</text><text x="112" y="1051">0.0</text>
<text x="112" y="1090">1.5</text><text x="112" y="1116">1.0</text><text x="112" y="1141">0.5</text><text x="112" y="1167">0.0</text>
<text x="112" y="1205">1.5</text><text x="112" y="1230">1.0</text><text x="112" y="1256">0.5</text><text x="112" y="1281">0.0</text>
</g>
<g stroke="#222" stroke-width="1.3" fill="none">
<polyline points="118,741 118,820 245,820"/><polyline points="118,863 118,933 245,933"/><polyline points="118,968 118,1046 245,1046"/><polyline points="118,1083 118,1162 245,1162"/><polyline points="118,1198 118,1276 245,1276"/>
<line x1="114" y1="743" x2="118" y2="743"/><line x1="114" y1="768.7" x2="118" y2="768.7"/><line x1="114" y1="794.4" x2="118" y2="794.4"/>
<line x1="114" y1="865" x2="118" y2="865"/><line x1="114" y1="892.2" x2="118" y2="892.2"/><line x1="114" y1="919.4" x2="118" y2="919.4"/>
<line x1="114" y1="970" x2="118" y2="970"/><line x1="114" y1="995.3" x2="118" y2="995.3"/><line x1="114" y1="1020.6" x2="118" y2="1020.6"/>
<line x1="114" y1="1085" x2="118" y2="1085"/><line x1="114" y1="1110.7" x2="118" y2="1110.7"/><line x1="114" y1="1136.3" x2="118" y2="1136.3"/>
<line x1="114" y1="1200" x2="118" y2="1200"/><line x1="114" y1="1225.3" x2="118" y2="1225.3"/><line x1="114" y1="1250.6" x2="118" y2="1250.6"/>
</g>
<g stroke="#111" stroke-width="1.2">
<rect x="134" y="768.7" width="19" height="51.3" fill="#f0a024"/><rect x="164" y="818.5" width="19" height="1.5" fill="#2a9fd6"/><rect x="193" y="818" width="19" height="2" fill="#1f6394"/><rect x="223" y="818.5" width="19" height="1.5" fill="#7a5219"/>
<rect x="134" y="905.8" width="19" height="27.2" fill="#f0a024"/><rect x="164" y="921.6" width="19" height="11.4" fill="#2a9fd6"/><rect x="193" y="922.9" width="19" height="10.1" fill="#1f6394"/><rect x="223" y="877.2" width="19" height="55.8" fill="#7a5219"/>
<rect x="134" y="995.3" width="19" height="50.7" fill="#f0a024"/><rect x="164" y="999.4" width="19" height="46.6" fill="#2a9fd6"/><rect x="193" y="999.4" width="19" height="46.6" fill="#1f6394"/><rect x="223" y="991.2" width="19" height="54.8" fill="#7a5219"/>
<rect x="134" y="1110.7" width="19" height="51.3" fill="#f0a024"/><rect x="164" y="1108.1" width="19" height="53.9" fill="#2a9fd6"/><rect x="193" y="1114.8" width="19" height="47.2" fill="#1f6394"/><rect x="223" y="1116.9" width="19" height="45.1" fill="#7a5219"/>
<rect x="134" y="1225.3" width="19" height="50.7" fill="#f0a024"/><rect x="164" y="1226.8" width="19" height="49.2" fill="#2a9fd6"/><rect x="193" y="1223.3" width="19" height="52.7" fill="#1f6394"/><rect x="223" y="1226.3" width="19" height="49.7" fill="#7a5219"/>
</g>
<g stroke="#111" stroke-width="1.3">
<line x1="143.5" y1="768.7" x2="143.5" y2="767.5"/><line x1="139" y1="767.5" x2="148" y2="767.5"/>
<line x1="232.5" y1="877.2" x2="232.5" y2="873.2"/><line x1="228" y1="873.2" x2="237" y2="873.2"/>
<line x1="143.5" y1="995.3" x2="143.5" y2="991.8"/><line x1="139" y1="991.8" x2="148" y2="991.8"/>
<line x1="173.5" y1="999.4" x2="173.5" y2="996.9"/><line x1="169" y1="996.9" x2="178" y2="996.9"/>
<line x1="202.5" y1="999.4" x2="202.5" y2="996.4"/><line x1="198" y1="996.4" x2="207" y2="996.4"/>
<line x1="232.5" y1="991.2" x2="232.5" y2="986.6"/><line x1="228" y1="986.6" x2="237" y2="986.6"/>
<line x1="173.5" y1="1108.1" x2="173.5" y2="1105.5"/><line x1="169" y1="1105.5" x2="178" y2="1105.5"/>
<line x1="232.5" y1="1116.9" x2="232.5" y2="1115.4"/><line x1="228" y1="1115.4" x2="237" y2="1115.4"/>
<line x1="143.5" y1="1225.3" x2="143.5" y2="1222.8"/><line x1="139" y1="1222.8" x2="148" y2="1222.8"/>
<line x1="173.5" y1="1226.8" x2="173.5" y2="1223.8"/><line x1="169" y1="1223.8" x2="178" y2="1223.8"/>
<line x1="202.5" y1="1223.3" x2="202.5" y2="1221.8"/><line x1="198" y1="1221.8" x2="207" y2="1221.8"/>
<line x1="146" y1="898" x2="173" y2="898"/><line x1="176" y1="915" x2="203" y2="915"/><line x1="203" y1="868" x2="232" y2="868"/>
</g>
<g class="s12 m"><text x="159.5" y="898">***</text><text x="217.5" y="868">***</text></g>
<text x="189.5" y="912" class="s12 m">NS</text>

<!-- ================= PANEL G ================= -->
<text x="265" y="721" class="L">G</text>
<text x="519" y="719" class="s15 m">Chr 2R</text>
<text x="877" y="719" class="s15 m">Chr 2R</text>
<polygon points="384,731 750,765 442,765" fill="#dcdcdc"/>
<polygon points="783,732 1000,765 748,765" fill="#dcdcdc"/>
<rect x="363" y="723" width="339" height="8" rx="4" fill="#111"/>
<rect x="423" y="724.5" width="273" height="5" fill="url(#pk)"/>
<rect x="750" y="723" width="269" height="8" rx="4" fill="#111"/>
<rect x="797" y="724.5" width="217" height="5" fill="url(#pk)"/>
<line x1="384" y1="721" x2="384" y2="733" stroke="#e01010" stroke-width="1.5"/>
<line x1="783" y1="721" x2="783" y2="733" stroke="#e01010" stroke-width="1.5"/>
<text x="430" y="774" class="s15 e">CHARRs target regions</text>
<text x="430" y="799" class="s15 e">H3K9me3 peaks</text>
<rect x="508" y="769" width="92" height="8" fill="#8c8a52"/>
<rect x="875" y="769" width="50" height="8" fill="#8c8a52"/>
<rect x="525" y="791" width="52" height="7" fill="#d96a6a"/>
<rect x="883" y="790" width="40" height="8" fill="#d96a6a"/>
<text x="612" y="778" class="s15">DMCR1A repeats</text>
<text x="743" y="778" class="s15">MAX_LTR repeats</text>
<text x="592" y="816" class="s15">Scale</text><text x="648" y="804" class="s15">500bp</text>
<text x="876" y="815" class="s15">Scale</text><text x="936" y="806" class="s15">500bp</text>
<g stroke="#111" stroke-width="1.3">
<line x1="638" y1="812" x2="702" y2="812"/><line x1="638" y1="808" x2="638" y2="816"/><line x1="702" y1="808" x2="702" y2="816"/>
<line x1="918" y1="813" x2="1001" y2="813"/><line x1="918" y1="809" x2="918" y2="817"/><line x1="1001" y1="809" x2="1001" y2="817"/>
</g>
<g stroke="#111">
<line x1="439" y1="807" x2="439" y2="1228" stroke-width="1.5"/>
<line x1="434" y1="807.5" x2="439" y2="807.5" stroke-width="1.2"/>
<line x1="740" y1="807" x2="740" y2="1228" stroke-width="1.5"/>
<line x1="733" y1="807.5" x2="740" y2="807.5" stroke-width="1.2"/>
</g>
<g stroke="#111" stroke-width="3">
<line x1="433" y1="843" x2="440" y2="843"/><line x1="433" y1="878" x2="440" y2="878"/><line x1="433" y1="913" x2="440" y2="913"/><line x1="433" y1="948" x2="440" y2="948"/><line x1="433" y1="983" x2="440" y2="983"/><line x1="433" y1="1018" x2="440" y2="1018"/><line x1="433" y1="1053" x2="440" y2="1053"/><line x1="433" y1="1088" x2="440" y2="1088"/><line x1="433" y1="1123" x2="440" y2="1123"/><line x1="433" y1="1158" x2="440" y2="1158"/><line x1="433" y1="1193" x2="440" y2="1193"/><line x1="433" y1="1227" x2="440" y2="1227"/>
<line x1="733" y1="843" x2="741" y2="843"/><line x1="733" y1="878" x2="741" y2="878"/><line x1="733" y1="913" x2="741" y2="913"/><line x1="733" y1="948" x2="741" y2="948"/><line x1="733" y1="983" x2="741" y2="983"/><line x1="733" y1="1018" x2="741" y2="1018"/><line x1="733" y1="1053" x2="741" y2="1053"/><line x1="733" y1="1088" x2="741" y2="1088"/><line x1="733" y1="1123" x2="741" y2="1123"/><line x1="733" y1="1158" x2="741" y2="1158"/><line x1="733" y1="1193" x2="741" y2="1193"/><line x1="733" y1="1227" x2="741" y2="1227"/>
</g>
<g class="s15">
<text x="446" y="813">8</text><text x="446" y="858">8</text><text x="446" y="893">8</text><text x="446" y="928">8</text><text x="446" y="963">8</text><text x="446" y="998">8</text><text x="446" y="1033">8</text><text x="446" y="1068">8</text><text x="446" y="1103">8</text><text x="446" y="1138">8</text><text x="446" y="1173">8</text><text x="446" y="1208">8</text>
<text x="756" y="813">8</text><text x="756" y="858">8</text><text x="756" y="893">8</text><text x="756" y="928">8</text><text x="756" y="963">8</text><text x="756" y="998">8</text><text x="756" y="1033">8</text><text x="756" y="1068">8</text><text x="756" y="1103">8</text><text x="756" y="1138">8</text><text x="756" y="1173">8</text><text x="756" y="1208">8</text>
</g>
<g fill="#2d8a4e" stroke="#2d8a4e" stroke-width="1.5">
<line x1="443" y1="843" x2="703" y2="843"/><line x1="443" y1="878" x2="703" y2="878"/><line x1="443" y1="913" x2="703" y2="913"/><line x1="443" y1="948" x2="703" y2="948"/>
<line x1="747" y1="843" x2="1003" y2="843"/><line x1="747" y1="878" x2="1003" y2="878"/><line x1="747" y1="913" x2="1003" y2="913"/><line x1="747" y1="948" x2="1003" y2="948"/>
</g>
<g fill="#2d8a4e">
<path d="M503,843 L503,842 L513,842 L513,838 L523,838 L523,833 L533,833 L533,830 L543,830 L543,828 L552,828 L552,826 L555,826 L555,824 L560,824 L560,825 L568,825 L568,829 L575,829 L575,834 L580,834 L580,837 L590,837 L590,840 L600,840 L600,842 L617,842 L617,843 Z"/>
<path d="M528,878 L528,876 L535,876 L535,874 L545,874 L545,872 L555,872 L555,873 L565,873 L565,875 L572,875 L572,878 Z"/>
<path d="M503,913 L503,912 L510,912 L510,910 L520,910 L520,908 L530,908 L530,907 L545,907 L545,909 L552,909 L552,908 L560,908 L560,910 L568,910 L568,912 L583,912 L583,913 Z M588,913 L588,911 L595,911 L595,913 Z"/>
<path d="M467,948 L467,947 L480,947 L480,946 L490,946 L490,945 L505,945 L505,942 L515,942 L515,939 L525,939 L525,936 L535,936 L535,933 L545,933 L545,930 L550,930 L550,926 L558,926 L558,928 L565,928 L565,931 L572,931 L572,934 L580,934 L580,938 L590,938 L590,942 L600,942 L600,945 L610,945 L610,947 L620,947 L620,948 Z M668,948 L668,946 L678,946 L678,948 Z"/>
<path d="M775,843 L775,842 L848,842 L848,837 L857,837 L857,824 L865,824 L865,821 L877,821 L877,819 L893,819 L893,821 L897,821 L897,825 L905,825 L905,838 L913,838 L913,843 Z"/>
<path d="M857,878 L857,875 L866,875 L866,871 L877,871 L877,870 L890,870 L890,873 L898,873 L898,878 Z"/>
<path d="M873,913 L873,910 L880,910 L880,907 L895,907 L895,909 L905,909 L905,913 Z M997,913 L999,910 L1003,909 L1003,913 Z"/>
<path d="M857,948 L857,941 L863,941 L863,943 L898,943 L898,945 L905,945 L905,948 Z M940,948 L940,945 L957,945 L957,948 Z"/>
</g>
<g stroke="#f0922a" stroke-width="2">
<line x1="443" y1="983" x2="703" y2="983"/><line x1="443" y1="1018" x2="703" y2="1018"/><line x1="443" y1="1053" x2="703" y2="1053"/><line x1="443" y1="1088" x2="703" y2="1088"/>
<line x1="747" y1="983" x2="1003" y2="983"/><line x1="747" y1="1018" x2="1003" y2="1018"/><line x1="747" y1="1053" x2="1003" y2="1053"/><line x1="747" y1="1088" x2="1003" y2="1088"/>
</g>
<g stroke="#1fa0b8" stroke-width="2">
<line x1="443" y1="1123" x2="703" y2="1123"/><line x1="443" y1="1158" x2="703" y2="1158"/><line x1="443" y1="1193" x2="703" y2="1193"/><line x1="443" y1="1227" x2="703" y2="1227"/>
<line x1="747" y1="1123" x2="1003" y2="1123"/><line x1="747" y1="1158" x2="1003" y2="1158"/><line x1="747" y1="1193" x2="1003" y2="1193"/><line x1="747" y1="1227" x2="1003" y2="1227"/>
</g>
<g fill="#1fa0b8">
<path d="M465,1123 L468,1121.5 L475,1121.5 L478,1123 Z"/>
<path d="M522,1158 L525,1155 L535,1154 L545,1154 L552,1158 Z"/>
<path d="M503,1193 L510,1191 L530,1190 L545,1191 L553,1193 Z"/>
<path d="M497,1227 L503,1224 L515,1223 L520,1227 Z"/>
<path d="M830,1123 L833,1121 L838,1121 L841,1123 Z"/>
<path d="M855,1158 L858,1156.5 L868,1156.5 L871,1158 Z"/>
<path d="M867,1193 L872,1190 L885,1188 L895,1189 L908,1193 Z"/>
<path d="M867,1227 L872,1224 L880,1223 L895,1225 L907,1227 Z"/>
</g>
<g class="s15 e">
<text x="430" y="827">NC</text>
<text x="430" y="866"><tspan class="i">Dcr-2</tspan> siRNA</text>
<text x="430" y="893"><tspan class="i">Dcr-2</tspan> and</text>
<text x="430" y="912">Scr siRNA</text>
<text x="430" y="931"><tspan class="i">Dcr-2</tspan> and</text>
<text x="430" y="950">CHARRs siRNA</text>
<text x="430" y="970">NC</text>
<text x="430" y="1006"><tspan class="i">Dcr-2</tspan> siRNA</text>
<text x="430" y="1032"><tspan class="i">Dcr-2</tspan> and</text>
<text x="430" y="1051">Scr siRNA</text>
<text x="430" y="1067"><tspan class="i">Dcr-2</tspan> and</text>
<text x="430" y="1087">CHARRs siRNA</text>
<text x="430" y="1112">NC</text>
<text x="430" y="1147"><tspan class="i">Dcr-2</tspan> siRNA</text>
<text x="430" y="1167"><tspan class="i">Dcr-2</tspan> and</text>
<text x="430" y="1186">Scr siRNA</text>
<text x="430" y="1209"><tspan class="i">Dcr-2</tspan> and</text>
<text x="430" y="1228">CHARRs siRNA</text>
</g>
<g stroke="#222" stroke-width="1.5">
<line x1="316" y1="817" x2="316" y2="947"/><line x1="316" y1="959" x2="316" y2="1087"/><line x1="316" y1="1101" x2="316" y2="1228"/>
</g>
<g class="s15 m">
<text transform="translate(303,880) rotate(-90)">H3K9me3</text>
<text transform="translate(303,1023) rotate(-90)">H3K4me3</text>
<text transform="translate(303,1160) rotate(-90)">H3K27me3</text>
</g>
<g class="s15 m">
<text x="557" y="1252">Chr 2R : 1,580,500 - 1,582,500</text>
<text x="556" y="1270">ChIP-seq signals - input signals</text>
<text x="884" y="1252">Chr 2R : 3,093,222 - 3,094,478</text>
<text x="884" y="1270">ChIP-seq signals - input signals</text>
</g>
</svg>
</body></html>
